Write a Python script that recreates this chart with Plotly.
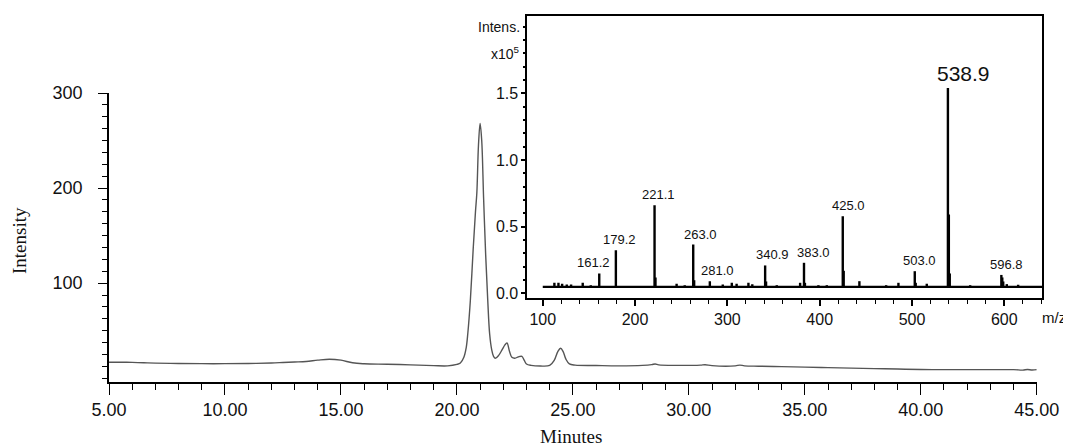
import plotly.graph_objects as go

# ---------------- data: chromatogram ----------------
TIME = [5.0, 5.5, 6.0, 6.5, 7.0, 8.0, 9.0, 10.0, 11.0, 12.0, 12.5, 13.0, 13.5,
        14.0, 14.5, 15.0, 15.5, 16.0, 17.0, 18.0, 19.0, 19.6, 20.0, 20.15, 20.3,
        20.4, 20.47, 20.58, 20.7, 20.8, 20.86, 20.93, 21.0, 21.07, 21.15, 21.24,
        21.33, 21.41, 21.5, 21.58, 21.66, 21.8, 21.95, 22.07, 22.16, 22.27, 22.37,
        22.5, 22.65, 22.8, 22.9, 23.0, 23.2, 23.6, 24.0, 24.2, 24.35, 24.47, 24.58,
        24.7, 24.85, 25.1, 26.0, 27.0, 28.0, 28.4, 28.55, 28.7, 29.5, 30.5, 30.7,
        31.0, 32.0, 32.2, 32.4, 33.0, 34.0, 35.0, 36.0, 37.0, 38.0, 39.0, 40.0,
        41.0, 42.0, 43.0, 44.0, 44.4, 44.6, 44.8, 45.0]
INTENSITY = [16.8, 16.8, 16.6, 16.2, 15.9, 15.5, 15.3, 15.3, 15.5, 16.0, 16.5, 17.0, 17.6,
             19.0, 20.0, 19.0, 16.2, 15.2, 14.7, 14.0, 13.2, 13.0, 14.5, 16.0, 22.0,
             32.0, 47.0, 82.0, 135.0, 175.0, 195.0, 245.0, 268.0, 250.0, 190.0, 130.0,
             82.0, 47.0, 30.0, 23.0, 21.0, 24.0, 30.0, 35.0, 37.0, 28.0, 22.0,
             21.0, 22.5, 23.0, 19.0, 15.0, 13.5, 12.8, 13.5, 19.0, 28.0, 31.5, 28.0,
             20.0, 15.0, 13.7, 13.3, 13.0, 13.5, 14.3, 15.0, 14.0, 13.5, 13.8, 14.2,
             13.2, 13.0, 13.8, 13.0, 12.6, 12.2, 11.6, 11.1, 10.6, 10.1, 9.6, 9.1,
             9.0, 9.0, 9.0, 9.0, 8.5, 9.2, 8.6, 9.0]

# ---------------- data: mass spectrum (x10^5) ----------------
MZ = [112.6, 117.0, 121.0, 126.0, 130.7, 143.3, 152.0, 161.2, 179.2, 221.1, 222.1,
      245.0, 253.8, 263.0, 264.0, 281.0, 295.0, 304.8, 310.0, 322.8, 327.0, 340.9,
      341.9, 353.5, 378.8, 383.0, 384.0, 398.6, 407.7, 425.0, 426.0, 443.0, 472.0,
      485.3, 503.0, 504.0, 516.0, 538.9, 539.9, 540.9, 563.0, 596.8, 597.8, 598.8,
      602.7, 615.0]
MS_INT = [0.080, 0.080, 0.073, 0.067, 0.067, 0.080, 0.062, 0.150, 0.324, 0.661, 0.120,
          0.073, 0.062, 0.367, 0.100, 0.092, 0.067, 0.080, 0.073, 0.080, 0.070, 0.210,
          0.090, 0.062, 0.080, 0.230, 0.080, 0.062, 0.062, 0.579, 0.170, 0.092, 0.062,
          0.080, 0.167, 0.080, 0.073, 1.541, 0.592, 0.150, 0.062, 0.139, 0.120, 0.090,
          0.070, 0.065]
MS_BASELINE = 0.05
MS_START, MS_END = 100.0, 645.0
LABELED = ["161.2", "179.2", "221.1", "263.0", "281.0", "340.9", "383.0",
           "425.0", "503.0", "538.9", "596.8"]

MAIN_YTICKS = [100, 200, 300]
MAIN_XTICKS = [5, 10, 15, 20, 25, 30, 35, 40, 45]
INSET_XTICKS = [100, 200, 300, 400, 500, 600]
INSET_YTICKS = [0.0, 0.5, 1.0, 1.5]

# label placement (style only, pixels)
LABEL_XSHIFT = {"161.2": -6, "179.2": 4, "221.1": 4, "263.0": 7, "281.0": 8,
                "340.9": 7, "383.0": 10, "425.0": 6, "503.0": 5, "538.9": 16,
                "596.8": 5}

SANS = "Liberation Sans, Arial, sans-serif"
SERIF = "Liberation Serif, Times New Roman, serif"

fig = go.Figure()

fig.add_trace(go.Scatter(x=TIME, y=INTENSITY, mode="lines", line_shape="spline",
                         line=dict(color="#555555", width=1.4), xaxis="x", yaxis="y",
                         hoverinfo="skip", showlegend=False))

# stick spectrum built from the data
sx, sy = [], []
for m, h in zip(MZ, MS_INT):
    sx += [m, m, None]
    sy += [MS_BASELINE, h, None]
fig.add_trace(go.Scatter(x=[MS_START, MS_END], y=[MS_BASELINE, MS_BASELINE], mode="lines",
                         line=dict(color="black", width=2.2), xaxis="x2", yaxis="y2",
                         showlegend=False, hoverinfo="skip"))
fig.add_trace(go.Scatter(x=sx, y=sy, mode="lines", line=dict(color="black", width=2.4),
                         xaxis="x2", yaxis="y2", showlegend=False, hoverinfo="skip"))

annotations = []
for m, h in zip(MZ, MS_INT):
    lab = f"{m:.1f}"
    if lab in LABELED:
        big = lab == "538.9"
        annotations.append(dict(x=m, y=h, xref="x2", yref="y2", text=lab, showarrow=False,
                                xanchor="center", yanchor="bottom",
                                xshift=LABEL_XSHIFT[lab], yshift=1,
                                font=dict(family=SANS, size=21 if big else 13, color="#111")))

annotations += [
    dict(text="Intensity", x=-0.0953, y=0.388, xref="paper", yref="paper", textangle=-90,
         xanchor="center", yanchor="middle",
         showarrow=False, font=dict(family=SERIF, size=19, color="#111")),
    dict(text="Minutes", x=0.4946, y=-0.150, xref="paper", yref="paper",
         xanchor="center", yanchor="middle",
         showarrow=False, font=dict(family=SERIF, size=19, color="#111")),
    dict(text="m/z", x=1.0118, y=0.1749, xref="paper", yref="paper",
         xanchor="center", yanchor="middle",
         showarrow=False, font=dict(family=SANS, size=15, color="#111")),
    dict(text="Intens.", x=0, y=2.0, xref="x2 domain", yref="y2", xanchor="right",
         yanchor="middle", xshift=-5, showarrow=False,
         font=dict(family=SANS, size=14, color="#111")),
    dict(text="x10<sup>5</sup>", x=0, y=1.8, xref="x2 domain", yref="y2", xanchor="right",
         yanchor="middle", xshift=-5, showarrow=False,
         font=dict(family=SANS, size=14, color="#111")),
]

# the page body adds an 8px offset; figure size/margins compensate for it
fig.update_layout(
    template="none",
    width=1063, height=438,
    margin=dict(l=101, r=28, t=8, b=64, autoexpand=False),
    paper_bgcolor="white", plot_bgcolor="white",
    showlegend=False,
    annotations=annotations,
    xaxis=dict(domain=[0, 0.9933], range=[5, 45], tickvals=MAIN_XTICKS, automargin=False,
               ticktext=[f"{v:.2f}" for v in MAIN_XTICKS],
               showline=True, linecolor="black", linewidth=1.5, ticks="outside",
               ticklen=11, tickwidth=1.3, tickcolor="black", showgrid=False, zeroline=False,
               tickfont=dict(family=SANS, size=18, color="#111"),
               minor=dict(dtick=1, tick0=5, ticks="outside", ticklen=6, tickwidth=1.2,
                          tickcolor="black", showgrid=False)),
    yaxis=dict(domain=[0, 0.7896], range=[-4, 300], tickvals=MAIN_YTICKS, automargin=False,
               showline=True, linecolor="black", linewidth=1.5, ticks="outside",
               ticklen=9, tickwidth=1.3, tickcolor="black", showgrid=False, zeroline=False,
               ticklabelstandoff=12,
               tickfont=dict(family=SANS, size=18, color="#111"),
               minor=dict(dtick=12.5, tick0=0, ticks="outside", ticklen=5, tickwidth=1.2,
                          tickcolor="black", showgrid=False)),
    xaxis2=dict(domain=[0.4479, 0.9993], range=[83.3, 641.2], anchor="y2", automargin=False,
                tickvals=INSET_XTICKS, showline=True, mirror=True, linecolor="black",
                linewidth=2, ticks="outside", ticklen=6, tickwidth=1.5, tickcolor="black",
                showgrid=False, zeroline=False,
                tickfont=dict(family=SANS, size=16, color="#111"),
                minor=dict(dtick=20, tick0=100, ticks="outside", ticklen=4, tickwidth=1.3,
                           tickcolor="black", showgrid=False)),
    yaxis2=dict(domain=[0.2295, 1.0], range=[-0.034, 2.08], anchor="x2", automargin=False,
                tickvals=INSET_YTICKS, tickformat=".1f", showline=True, mirror=True,
                linecolor="black", linewidth=2, ticks="outside", ticklen=4, tickwidth=1.5,
                tickcolor="black", showgrid=False, zeroline=False,
                tickfont=dict(family=SANS, size=16, color="#111"),
                minor=dict(dtick=0.1, tick0=0, ticks="outside", ticklen=2, tickwidth=2,
                           tickcolor="black", showgrid=False)),
)

fig.write_html("out.html")
